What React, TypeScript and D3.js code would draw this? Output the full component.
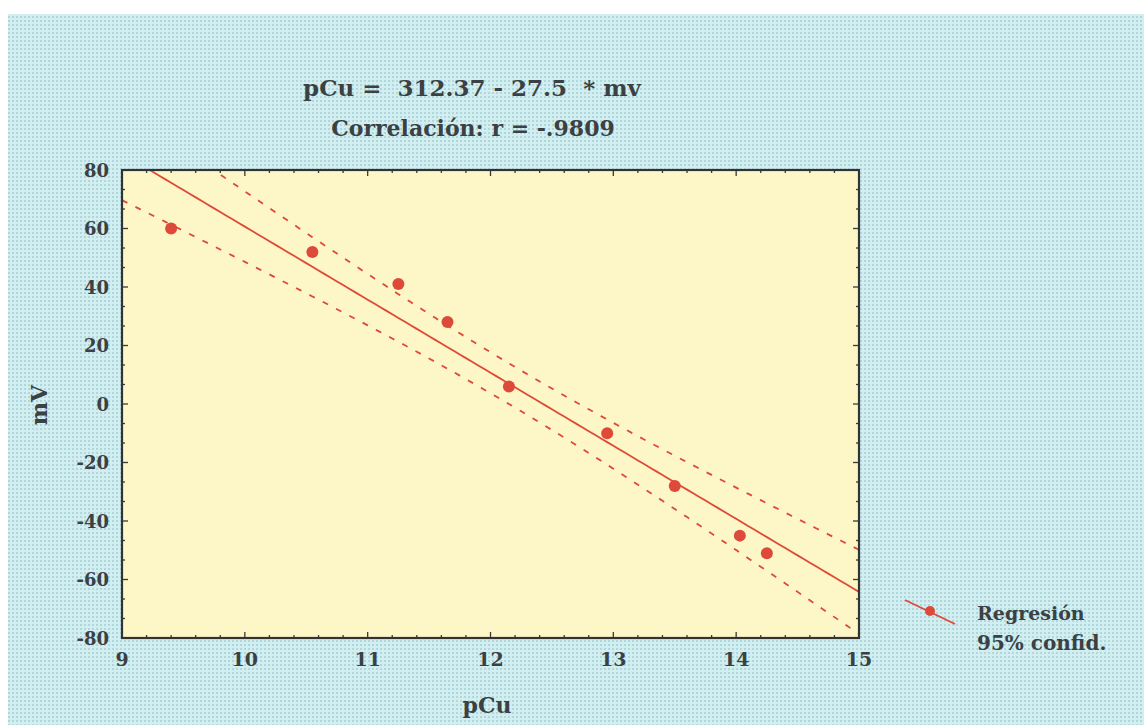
import React from "react";
import * as d3 from "d3";

// Data
const pCu: number[] = [9.4, 10.55, 11.25, 11.65, 12.15, 12.95, 13.5, 14.03, 14.25];
const mV: number[] = [60, 52, 41, 28, 6, -10, -28, -45, -51];
const xTicks: number[] = [9, 10, 11, 12, 13, 14, 15];
const yTicks: number[] = [80, 60, 40, 20, 0, -20, -40, -60, -80];
const titleLine1 = "pCu =  312.37 - 27.5  * mv";
const titleLine2 = "Correlación: r = -.9809";
const xLabel = "pCu";
const yLabel = "mV";
const legendLines = ["Regresión", "95% confid."];

const W = 1144;
const H = 725;
const M = { left: 122, right: 859, top: 170, bottom: 638 };
const FONT = "'DejaVu Serif', 'Liberation Serif', serif";
const TEXT = "#3b4143";
const RED = "#de4a3a";

// Least-squares fit with 95% confidence band for the mean
function fit(xs: number[], ys: number[]) {
  const n = xs.length;
  const mx = d3.mean(xs)!;
  const my = d3.mean(ys)!;
  const sxx = d3.sum(xs, (x) => (x - mx) ** 2);
  const sxy = d3.sum(xs.map((x, i) => (x - mx) * (ys[i] - my)));
  const b = sxy / sxx;
  const a = my - b * mx;
  const sse = d3.sum(xs.map((x, i) => (ys[i] - (a + b * x)) ** 2));
  const s = Math.sqrt(sse / (n - 2));
  const t = 2.365;
  const hw = (x: number) => t * s * Math.sqrt(1 / n + (x - mx) ** 2 / sxx);
  return { a, b, hw };
}

export default function App() {
  const x = d3.scaleLinear().domain([9, 15]).range([M.left, M.right]);
  const y = d3.scaleLinear().domain([-80, 80]).range([M.bottom, M.top]);
  const { a, b, hw } = fit(pCu, mV);
  const xs = d3.range(0, 121).map((i) => 9 + (6 * i) / 120);
  const line = d3
    .line<[number, number]>()
    .x((d) => x(d[0]))
    .y((d) => y(d[1]));
  const reg = line(xs.map((v) => [v, a + b * v]))!;
  const up = line(xs.map((v) => [v, a + b * v + hw(v)]))!;
  const lo = line(xs.map((v) => [v, a + b * v - hw(v)]))!;

  const xMinor = d3.range(0, 31).map((i) => 9 + i * 0.2);
  const yMinor = d3.range(0, 25).map((i) => -80 + (i * 20) / 3);

  return (
    <svg
      width={W}
      height={H}
      style={{ position: "absolute", left: 0, top: 0, display: "block" }}
    >
      <defs>
        <pattern id="tex" width="4" height="4" patternUnits="userSpaceOnUse">
          <rect width="4" height="4" fill="#d3eef0" />
          <rect width="2" height="2" fill="#add9dd" />
        </pattern>
        <clipPath id="clip">
          <rect x={M.left} y={M.top} width={M.right - M.left} height={M.bottom - M.top} />
        </clipPath>
      </defs>
      <rect width={W} height={H} fill="#ffffff" />
      <rect x={8} y={14} width={W - 8} height={H - 14} fill="url(#tex)" />
      <rect
        x={M.left}
        y={M.top}
        width={M.right - M.left}
        height={M.bottom - M.top}
        fill="#fdf6c6"
      />

      {/* ticks */}
      <g stroke="#3a3a3a" strokeWidth={1.3}>
        {xMinor.map((v, i) => {
          const len = Math.abs(v - Math.round(v)) < 1e-6 ? 6 : 3;
          return (
            <g key={"xt" + i}>
              <line x1={x(v)} x2={x(v)} y1={M.bottom} y2={M.bottom - len} />
              <line x1={x(v)} x2={x(v)} y1={M.top} y2={M.top + len} />
            </g>
          );
        })}
        {yMinor.map((v, i) => {
          const len = Math.abs(v / 20 - Math.round(v / 20)) < 1e-6 ? 6 : 3;
          return (
            <g key={"yt" + i}>
              <line x1={M.left} x2={M.left + len} y1={y(v)} y2={y(v)} />
              <line x1={M.right} x2={M.right - len} y1={y(v)} y2={y(v)} />
            </g>
          );
        })}
      </g>

      <g clipPath="url(#clip)" fill="none" stroke={RED}>
        <path d={reg} strokeWidth={1.8} />
        <path d={up} strokeWidth={1.8} strokeDasharray="6 9" />
        <path d={lo} strokeWidth={1.8} strokeDasharray="6 9" />
      </g>
      <g fill={RED}>
        {pCu.map((v, i) => (
          <circle key={i} cx={x(v)} cy={y(mV[i])} r={6} />
        ))}
      </g>

      {/* frame */}
      <rect
        x={M.left}
        y={M.top}
        width={M.right - M.left}
        height={M.bottom - M.top}
        fill="none"
        stroke="#333"
        strokeWidth={2.2}
      />

      <g fontFamily={FONT} fontWeight="bold" fill={TEXT}>
        {xTicks.map((v) => (
          <text key={"xl" + v} x={x(v)} y={666} fontSize={19} textAnchor="middle">
            {v}
          </text>
        ))}
        {yTicks.map((v) => (
          <text
            key={"yl" + v}
            x={109}
            y={y(v)}
            fontSize={18}
            textAnchor="end"
            dominantBaseline="central"
          >
            {v}
          </text>
        ))}
        <text x={487} y={713} fontSize={22} textAnchor="middle">
          {xLabel}
        </text>
        <text
          transform="translate(47,405) rotate(-90)"
          fontSize={22}
          textAnchor="middle"
        >
          {yLabel}
        </text>
        <text x={472} y={96} fontSize={23} textAnchor="middle" xmlSpace="preserve">
          {titleLine1}
        </text>
        <text x={473} y={136} fontSize={22} textAnchor="middle">
          {titleLine2}
        </text>
        <text x={977} y={620} fontSize={19}>
          {legendLines[0]}
        </text>
        <text x={977} y={650} fontSize={20}>
          {legendLines[1]}
        </text>
      </g>
      <line x1={905} y1={600} x2={955} y2={624} stroke={RED} strokeWidth={1.8} />
      <circle cx={930} cy={611} r={5} fill={RED} />
    </svg>
  );
}
